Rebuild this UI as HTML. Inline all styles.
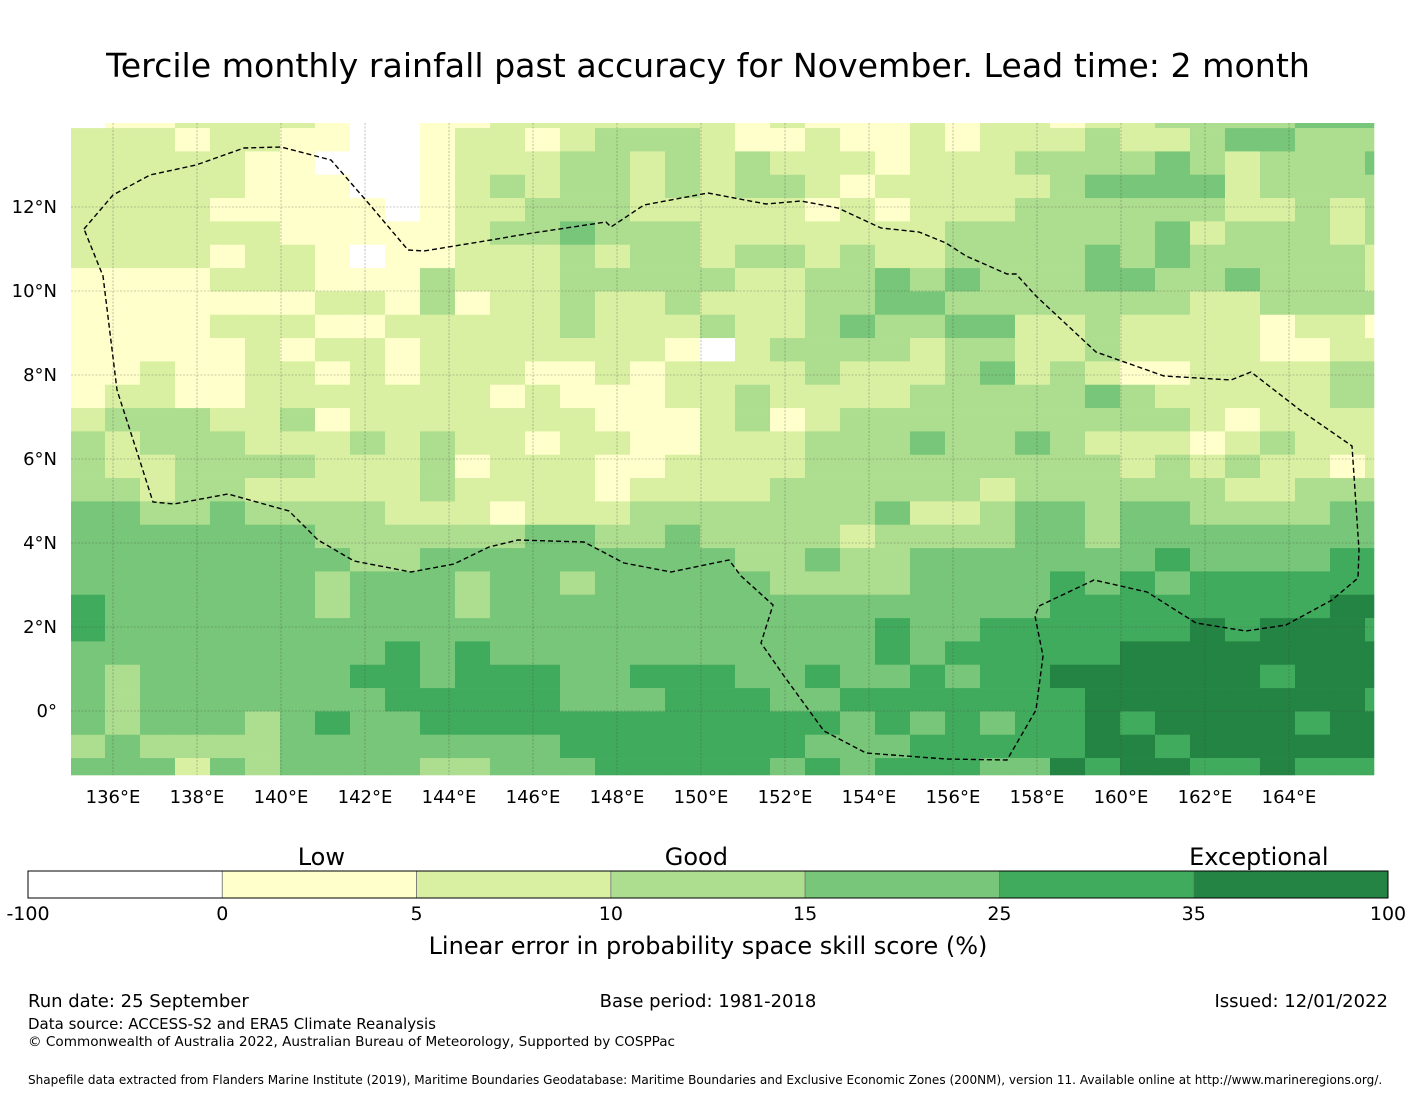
<!DOCTYPE html>
<html><head><meta charset="utf-8">
<style>
body{margin:0;background:#fff;}
svg{display:block;font-family:"DejaVu Sans","Liberation Sans",sans-serif;}
</style></head>
<body>
<svg id="chart" width="1416" height="1095" viewBox="0 0 1416 1095" xmlns="http://www.w3.org/2000/svg">
<text x="708" y="77" font-size="33.2" text-anchor="middle" fill="#000">Tercile monthly rainfall past accuracy for November. Lead time: 2 month</text>
<g id="map"></g>
<g id="cbar"></g>
<text x="708" y="954" font-size="24" text-anchor="middle">Linear error in probability space skill score (%)</text>
<text x="28" y="1007" font-size="18">Run date: 25 September</text>
<text x="708" y="1007" font-size="18" text-anchor="middle">Base period: 1981-2018</text>
<text x="1388" y="1007" font-size="18" text-anchor="end">Issued: 12/01/2022</text>
<text x="28" y="1029" font-size="15">Data source: ACCESS-S2 and ERA5 Climate Reanalysis</text>
<text x="28" y="1046" font-size="13.6">© Commonwealth of Australia 2022, Australian Bureau of Meteorology, Supported by COSPPac</text>
<text x="28" y="1084" font-size="12.05">Shapefile data extracted from Flanders Marine Institute (2019), Maritime Boundaries Geodatabase: Maritime Boundaries and Exclusive Economic Zones (200NM), version 11. Available online at http://www.marineregions.org/.</text>
</svg>
<script>
// ---- data ----
const skillClasses = [-50, 2.5, 7.5, 12.5, 20, 30, 50]; // representative skill score per class code
const gridRows = [
"0112222100112"+"22222212111"+"21221223333444",
"2221221100122"+"12333211211"+"21222322344333",
"2222211000122"+"23323232221"+"22233334323334",
"2222211100123"+"23323233212"+"22223444423333",
"2222111110122"+"33322222121"+"22233333322323",
"2222221111123"+"34333222222"+"23333334233323",
"2222122101122"+"23233233232"+"23333434333332",
"1111222111322"+"23333322334"+"34333443343332",
"1111111221312"+"23223222334"+"43333333223333",
"1111222112222"+"23222322343"+"34422322221221",
"1111121221222"+"22221023333"+"23322322221122",
"1121122121222"+"11212222322"+"23423211222233",
"1221122222221"+"21112232222"+"33333432222233",
"2333223122222"+"22111231233"+"33333333212222",
"3233322232322"+"12211222333"+"43343222123222",
"3223333222312"+"22112222333"+"33333323232212",
"3323322222322"+"22122223333"+"33233333322333",
"4433433332221"+"22233333334"+"22344344333344",
"4444444333333"+"44334333323"+"33344344444444",
"4444444433444"+"44444433433"+"44444445444455",
"4444444344434"+"43444443333"+"44445454555555",
"5444444344434"+"44444444444"+"44445555555566",
"5444444444444"+"44444444445"+"44555555656665",
"4444444445454"+"44444444445"+"45555566666666",
"4344444455455"+"54455544544"+"54556666665666",
"4344444445555"+"54445554455"+"55555666666665",
"4344434544555"+"55555555545"+"45455656666566",
"3433334444444"+"45555555444"+"55555665666666",
"4442434444334"+"44555554545"+"55446566556555"
];
const skillGrid = gridRows.map(r => r.split('').map(c => skillClasses[+c]));
const binEdges = [-100, 0, 5, 10, 15, 25, 35, 100];
const binColors = ["#ffffff","#ffffcc","#d9f0a3","#addd8e","#78c679","#41ab5d","#238443"];
const lonTicks = [136,138,140,142,144,146,148,150,152,154,156,158,160,162,164];
const latTicks = [12,10,8,6,4,2,0];
const bandLabels = ["Low","Good","Exceptional"];
const bandCenters = [2.55, 12.2, 56.8];
const eez = [[84,229],[113,195],[150,175],[196,165],[244,148],[281,147],[331,160],[370,205],[408,250],[424,251],[491,240],[526,234],[606,222],[611,227],[644,205],[708,193],[766,204],[801,201],[838,208],[881,228],[919,232],[946,243],[966,256],[1007,274],[1016,274],[1036,296],[1096,352],[1164,376],[1231,380],[1251,372],[1300,410],[1352,446],[1359,550],[1358,578],[1332,600],[1286,625],[1246,631],[1196,623],[1147,592],[1094,580],[1039,606],[1035,616],[1043,656],[1036,710],[1007,760],[946,759],[866,753],[824,731],[784,676],[761,643],[773,605],[741,576],[729,560],[671,572],[624,563],[584,542],[518,540],[489,547],[454,564],[411,572],[354,561],[318,540],[289,511],[228,494],[174,504],[153,502],[138,455],[117,390],[103,276],[84,229]];

// ---- geometry ----
const MX0=71, MX1=1374, MY0=123, MY1=775;
const lon0=134.976, dlon=5/6, latTop=14.435, dlat=5/9;
const xOf = lon => 113 + (lon-136)*42;
const yOf = lat => 207 + (12-lat)*42;
const NS="http://www.w3.org/2000/svg";
function mk(tag, attrs, parent){const e=document.createElementNS(NS,tag);for(const k in attrs)e.setAttribute(k,attrs[k]);parent.appendChild(e);return e;}
function colorFor(v){for(let i=0;i<binEdges.length-1;i++){if(v<binEdges[i+1])return binColors[i];}return binColors[binColors.length-1];}

const map=document.getElementById('map');
const cells=mk('g',{},map);


skillGrid.forEach((row,r)=>{
  row.forEach((v,c)=>{
    let x0=Math.max(MX0,xOf(lon0+c*dlon)), x1=Math.min(MX1,xOf(lon0+(c+1)*dlon));
    let y0=Math.max(MY0,yOf(latTop-r*dlat)), y1=Math.min(MY1,yOf(latTop-(r+1)*dlat));
    if(r===0) y0=MY0;
    if(x1<=x0||y1<=y0) return;
    const el=mk('rect',{x:x0,y:y0,width:x1-x0+0.3,height:y1-y0+0.3,fill:colorFor(v)},cells);
    
    
  });
});
// gridlines
const gl=mk('g',{stroke:'#444','stroke-width':0.6,'stroke-dasharray':'2,1.5',opacity:0.55},map);


lonTicks.forEach(l=>{mk('line',{x1:xOf(l),x2:xOf(l),y1:MY0,y2:MY1},gl);});
latTicks.forEach(l=>{mk('line',{x1:MX0,x2:MX1,y1:yOf(l),y2:yOf(l)},gl);});
// EEZ boundary
const pl=mk('polyline',{points:eez.map(p=>p.join(',')).join(' '),fill:'none',stroke:'#000','stroke-width':1.4,'stroke-dasharray':'5,3'},map);


// axis labels
lonTicks.forEach(l=>{const t=mk('text',{x:xOf(l),y:803,'font-size':18,'text-anchor':'middle'},map);t.textContent=l+'°E';

});
latTicks.forEach(l=>{const t=mk('text',{x:57,y:yOf(l)+6,'font-size':18,'text-anchor':'end'},map);t.textContent=l===0?'0°':l+'°N';

});

// ---- colorbar ----
const cb=document.getElementById('cbar');
const CX0=28, CX1=1388, CY=871, CH=27, segW=(CX1-CX0)/binColors.length;
const cbX = v => { for(let i=0;i<binEdges.length-1;i++){ if(v<=binEdges[i+1]) return CX0+segW*(i+(v-binEdges[i])/(binEdges[i+1]-binEdges[i])); } return CX1; };
binColors.forEach((c,i)=>{const r=mk('rect',{x:cbX(binEdges[i]),y:CY,width:cbX(binEdges[i+1])-cbX(binEdges[i]),height:CH,fill:c,stroke:'#777','stroke-width':0.8},cb);

});
mk('rect',{x:CX0,y:CY,width:CX1-CX0,height:CH,fill:'none',stroke:'#000','stroke-width':1},cb);
binEdges.forEach(v=>{const t=mk('text',{x:cbX(v),y:920,'font-size':19,'text-anchor':'middle'},cb);t.textContent=v;

});
bandLabels.forEach((s,i)=>{const t=mk('text',{x:cbX(bandCenters[i]),y:865,'font-size':24,'text-anchor':'middle'},cb);t.textContent=s;

});
</script>
</body></html>
